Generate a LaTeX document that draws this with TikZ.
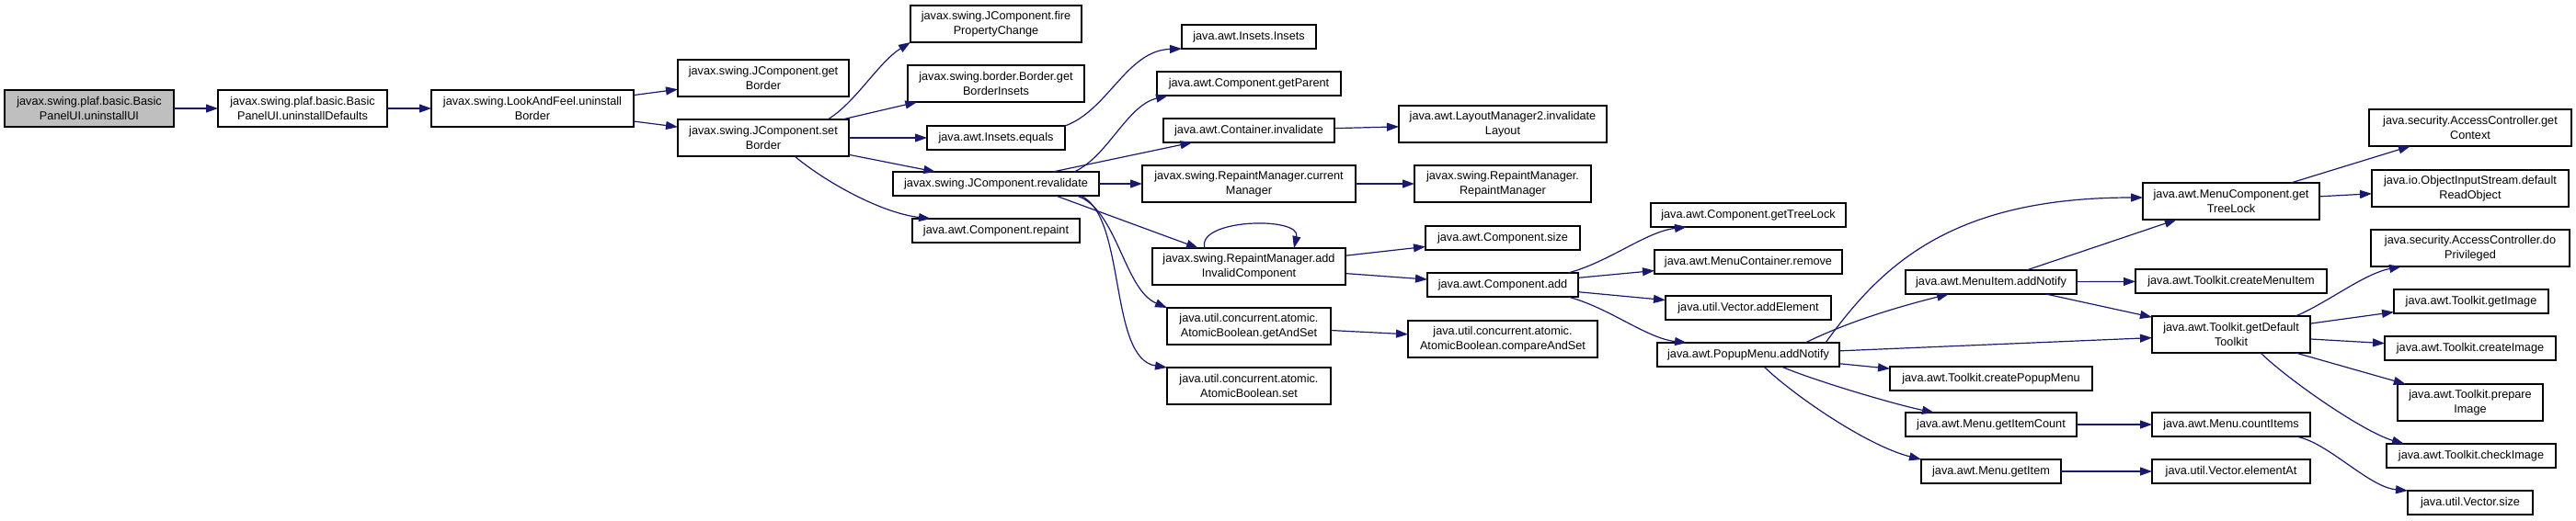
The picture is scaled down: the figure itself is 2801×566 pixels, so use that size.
\documentclass[tikz,border=0pt]{standalone}
\usepackage{fontspec}
\setmainfont{Liberation Sans}
\usetikzlibrary{arrows.meta}
\definecolor{edgeblue}{RGB}{25,25,112}
\definecolor{curgray}{RGB}{191,191,191}
\tikzset{
  fn/.style={draw=black, line width=1.6pt, fill=white, minimum height=26pt,
    inner sep=1pt, outer sep=0pt, align=center, font=\fontsize{12.7}{15.5}\selectfont},
  fntwo/.style={fn, minimum height=40pt},
  call/.style={draw=edgeblue, line width=1.2pt, -{Triangle[length=13pt,width=9pt]}},
}
\begin{document}
\begin{tikzpicture}[x=1pt,y=-1pt]
\useasboundingbox (0,0) rectangle (2801,566);

\node[fntwo,fill=curgray,minimum width=184] (ui) at (97,118) {javax.swing.plaf.basic.Basic\\PanelUI.uninstallUI};
\node[fntwo,minimum width=184] (defaults) at (329,118) {javax.swing.plaf.basic.Basic\\PanelUI.uninstallDefaults};
\node[fntwo,minimum width=220] (laf) at (579,118) {javax.swing.LookAndFeel.uninstall\\Border};
\node[fntwo,minimum width=186] (getborder) at (830,85) {javax.swing.JComponent.get\\Border};
\node[fntwo,minimum width=186] (setborder) at (830,150) {javax.swing.JComponent.set\\Border};

\node[fntwo,minimum width=186] (fire) at (1083,26) {javax.swing.JComponent.fire\\PropertyChange};
\node[fntwo,minimum width=192] (borderinsets) at (1083,91) {javax.swing.border.Border.get\\BorderInsets};
\node[fn,minimum width=150] (equals) at (1083,150) {java.awt.Insets.equals};
\node[fn,minimum width=224] (revalidate) at (1083,200) {javax.swing.JComponent.revalidate};
\node[fn,minimum width=182] (repaint) at (1083,251) {java.awt.Component.repaint};

\node[fn,minimum width=146] (insets) at (1358,40) {java.awt.Insets.Insets};
\node[fn,minimum width=200] (getparent) at (1358,91) {java.awt.Component.getParent};
\node[fn,minimum width=186] (invalidate) at (1358,142) {java.awt.Container.invalidate};
\node[fntwo,minimum width=232] (curmgr) at (1358,200) {javax.swing.RepaintManager.current\\Manager};
\node[fntwo,minimum width=210] (addinv) at (1358,290) {javax.swing.RepaintManager.add\\InvalidComponent};
\node[fntwo,minimum width=178] (getandset) at (1358,355) {java.util.concurrent.atomic.\\AtomicBoolean.getAndSet};
\node[fntwo,minimum width=178] (abset) at (1358,420) {java.util.concurrent.atomic.\\AtomicBoolean.set};

\node[fntwo,minimum width=226] (layout) at (1634,135) {java.awt.LayoutManager2.invalidate\\Layout};
\node[fntwo,minimum width=192] (rmgr) at (1634,200) {javax.swing.RepaintManager.\\RepaintManager};
\node[fn,minimum width=168] (csize) at (1634,259) {java.awt.Component.size};
\node[fn,minimum width=164] (cadd) at (1634,310) {java.awt.Component.add};
\node[fntwo,minimum width=206] (cas) at (1634,369) {java.util.concurrent.atomic.\\AtomicBoolean.compareAndSet};

\node[fn,minimum width=212] (treelock) at (1901,234) {java.awt.Component.getTreeLock};
\node[fn,minimum width=204] (remove) at (1901,285) {java.awt.MenuContainer.remove};
\node[fn,minimum width=180] (addelem) at (1901,335) {java.util.Vector.addElement};
\node[fn,minimum width=198] (popup) at (1901,386) {java.awt.PopupMenu.addNotify};

\node[fn,minimum width=186] (menuitem) at (2165,307) {java.awt.MenuItem.addNotify};
\node[fn,minimum width=220] (mkpopup) at (2165,412) {java.awt.Toolkit.createPopupMenu};
\node[fn,minimum width=186] (itemcount) at (2165,462) {java.awt.Menu.getItemCount};
\node[fn,minimum width=152] (getitem) at (2165,513) {java.awt.Menu.getItem};

\node[fntwo,minimum width=192] (mctreelock) at (2426,219) {java.awt.MenuComponent.get\\TreeLock};
\node[fn,minimum width=208] (mkmenuitem) at (2426,306) {java.awt.Toolkit.createMenuItem};
\node[fntwo,minimum width=172] (toolkit) at (2426,364) {java.awt.Toolkit.getDefault\\Toolkit};
\node[fn,minimum width=172] (countitems) at (2426,462) {java.awt.Menu.countItems};
\node[fn,minimum width=172] (elementat) at (2426,513) {java.util.Vector.elementAt};

\node[fntwo,minimum width=220] (context) at (2686,139) {java.security.AccessController.get\\Context};
\node[fntwo,minimum width=214] (readobject) at (2686,205) {java.io.ObjectInputStream.default\\ReadObject};
\node[fntwo,minimum width=216] (privileged) at (2686,270) {java.security.AccessController.do\\Privileged};
\node[fn,minimum width=168] (getimage) at (2687,328) {java.awt.Toolkit.getImage};
\node[fn,minimum width=186] (mkimage) at (2686,379) {java.awt.Toolkit.createImage};
\node[fntwo,minimum width=158] (prepimage) at (2686,438) {java.awt.Toolkit.prepare\\Image};
\node[fn,minimum width=184] (checkimage) at (2687,496) {java.awt.Toolkit.checkImage};
\node[fn,minimum width=136] (vsize) at (2686,547) {java.util.Vector.size};

\foreach \a/\b in {ui/defaults, defaults/laf, laf/getborder, laf/setborder,
    setborder/borderinsets, setborder/equals, setborder/revalidate,
    revalidate/invalidate, revalidate/curmgr, invalidate/layout, curmgr/rmgr,
    addinv/csize, addinv/cadd, getandset/cas, cadd/remove, cadd/addelem,
    popup/toolkit, popup/mkpopup, menuitem/mctreelock, menuitem/mkmenuitem,
    menuitem/toolkit, mctreelock/context, mctreelock/readobject,
    toolkit/getimage, toolkit/mkimage, toolkit/prepimage,
    itemcount/countitems, getitem/elementat}
  \draw[call] (\a) -- (\b);

\draw[call] ([xshift=70pt]setborder.north) .. controls (930,112) and (955,68) .. (fire.south west);
\draw[call] ([xshift=34pt]setborder.south) .. controls (900,200) and (960,232) .. ([xshift=-71pt]repaint.north);
\draw[call] (equals.north east) .. controls (1205,120) and (1225,55) .. (insets.south west);
\draw[call] ([xshift=85pt]revalidate.north) .. controls (1205,170) and (1225,115) .. ([xshift=-88pt]getparent.south);
\draw[call] ([xshift=65pt]revalidate.south) -- ([xshift=-55pt]addinv.north);
\draw[call] ([xshift=88pt]revalidate.south) .. controls (1215,228) and (1222,315) .. (getandset.north west);
\draw[call] ([xshift=92pt]revalidate.south) .. controls (1225,235) and (1205,390) .. (abset.north west);
\draw[call] ([xshift=-48pt]addinv.north) .. controls (1300,238) and (1415,235) .. ([xshift=49pt]addinv.north);
\draw[call] ([xshift=71pt]cadd.north) .. controls (1750,285) and (1790,252) .. ([xshift=-67pt]treelock.south);
\draw[call] ([xshift=71pt]cadd.south) .. controls (1750,335) and (1790,368) .. ([xshift=-67pt]popup.north);
\draw[call] ([xshift=84pt]popup.north) .. controls (2045,290) and (2120,215) .. ([yshift=4pt]mctreelock.west);
\draw[call] ([xshift=62pt]popup.north) .. controls (2010,350) and (2060,335) .. ([xshift=-46pt]menuitem.south);
\draw[call] ([xshift=36pt]popup.south) .. controls (1975,415) and (2060,440) .. ([xshift=-62pt]itemcount.north);
\draw[call] ([xshift=17pt]popup.south) .. controls (1950,430) and (2030,485) .. (getitem.north west);
\draw[call] ([xshift=70pt]toolkit.north) .. controls (2530,330) and (2570,298) .. ([xshift=-75pt]privileged.south);
\draw[call] ([xshift=32pt]toolkit.south) .. controls (2490,415) and (2570,470) .. ([xshift=-73pt]checkimage.north);
\draw[call] ([xshift=70pt]countitems.south) .. controls (2530,480) and (2575,530) .. (vsize.north west);
\end{tikzpicture}
\end{document}
